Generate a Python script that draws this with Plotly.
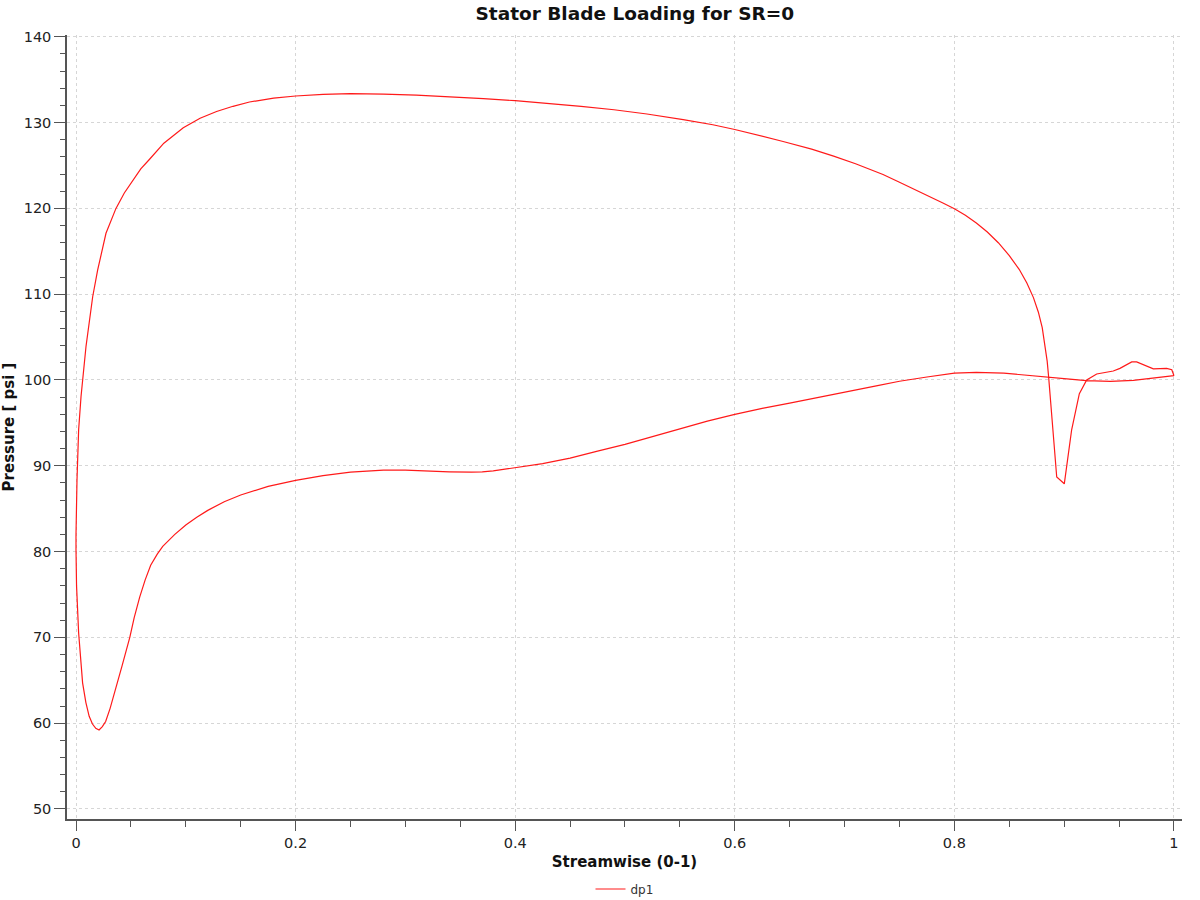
import plotly.graph_objects as go

# Suction side (lower branch), from trailing edge back to leading edge
x_lower = [1.0, 0.98, 0.963, 0.942, 0.92, 0.905, 0.886, 0.865, 0.845, 0.82, 0.80,
           0.775, 0.75, 0.73, 0.705, 0.675, 0.65, 0.625, 0.60, 0.575, 0.55, 0.525,
           0.50, 0.475, 0.45, 0.425, 0.40, 0.39, 0.38, 0.37, 0.36, 0.34, 0.32, 0.30, 0.28,
           0.25, 0.225, 0.20, 0.175, 0.15, 0.135, 0.12, 0.11, 0.10, 0.09, 0.079,
           0.074, 0.068, 0.063, 0.058, 0.053, 0.049, 0.042, 0.036, 0.031, 0.027,
           0.024, 0.021, 0.018, 0.015, 0.012, 0.009, 0.006, 0.0024, 0.0005, 0.0]
p_lower = [100.5, 100.2, 99.96, 99.84, 99.92, 100.1, 100.3, 100.6, 100.8, 100.88, 100.8,
           100.35, 99.85, 99.35, 98.7, 97.9, 97.3, 96.7, 96.0, 95.2, 94.3, 93.4,
           92.5, 91.7, 90.9, 90.25, 89.75, 89.55, 89.4, 89.3, 89.25, 89.3, 89.4, 89.5, 89.5,
           89.25, 88.85, 88.3, 87.6, 86.6, 85.8, 84.8, 84.0, 83.1, 82.0, 80.6,
           79.7, 78.4, 76.7, 74.7, 72.3, 70.0, 66.7, 63.9, 61.7, 60.2,
           59.6, 59.2, 59.4, 59.9, 60.8, 62.4, 64.7, 70.5, 76.0, 80.2]

# Pressure side (upper branch), from leading edge to trailing edge
x_upper = [0.0, 0.0009, 0.0024, 0.0046, 0.0091, 0.0152, 0.0197, 0.0273, 0.032,
           0.0364, 0.044, 0.0516, 0.059, 0.0668, 0.08, 0.0977, 0.113, 0.128,
           0.143, 0.158, 0.18, 0.20, 0.225, 0.25, 0.28, 0.31, 0.34, 0.371, 0.40,
           0.43, 0.46, 0.49, 0.52, 0.553, 0.58, 0.60, 0.62, 0.644, 0.67, 0.69,
           0.71, 0.735, 0.75, 0.766, 0.78, 0.79, 0.80, 0.81, 0.82, 0.83, 0.84,
           0.85, 0.859, 0.866, 0.872, 0.8765, 0.88, 0.8825, 0.8845, 0.8858, 0.8932,
           0.9001, 0.9068, 0.9138, 0.9205, 0.9296, 0.9447, 0.9508, 0.9615, 0.966,
           0.9812, 0.9933, 0.998, 1.0]
p_upper = [82.0, 88.3, 94.2, 98.1, 103.9, 109.7, 112.8, 117.1, 118.7,
           120.0, 121.8, 123.3, 124.6, 125.7, 127.6, 129.4, 130.5, 131.3,
           131.9, 132.4, 132.85, 133.1, 133.3, 133.37, 133.33, 133.2, 133.02, 132.8, 132.55,
           132.25, 131.9, 131.5, 131.0, 130.35, 129.75, 129.2, 128.6, 127.8, 126.9, 126.1,
           125.2, 123.95, 123.05, 122.1, 121.2, 120.6, 119.95, 119.2, 118.3, 117.25, 116.0,
           114.5, 112.9, 111.3, 109.6, 107.9, 106.1, 104.2, 102.2, 100.4, 88.7,
           87.9, 94.2, 98.4, 100.0, 100.7, 101.05, 101.35, 102.1, 102.1,
           101.3, 101.35, 101.2, 100.5]

x_vals = x_lower + x_upper
p_vals = p_lower + p_upper

x_ticks = [0, 0.2, 0.4, 0.6, 0.8, 1.0]
x_tick_labels = ["0", "0.2", "0.4", "0.6", "0.8", "1"]
y_ticks = [50, 60, 70, 80, 90, 100, 110, 120, 130, 140]

FONT = "DejaVu Sans"

fig = go.Figure()
fig.add_trace(go.Scatter(
    x=x_vals, y=p_vals, mode="lines", name="dp1",
    line=dict(color="#ff1a1a", width=1.2),
))

axis_common = dict(
    showline=True, linecolor="#555555", linewidth=1.5,
    ticks="outside", tickcolor="#555555", tickwidth=1.2,
    showgrid=True, gridcolor="#d6d6d6", gridwidth=1, griddash="dot",
    zeroline=False, mirror=False, automargin=False,
    tickfont=dict(family=FONT, size=14.5, color="#222222"),
)

fig.update_layout(
    width=1200, height=900,
    paper_bgcolor="white", plot_bgcolor="white",
    margin=dict(l=67, r=18, t=35, b=81),
    title=dict(text="<b>Stator Blade Loading for SR=0</b>",
               x=0.529, xanchor="center", y=1 - 14 / 900, yanchor="middle",
               yref="container", xref="container",
               font=dict(family=FONT, size=18.5, color="#111111")),
    showlegend=True,
    legend=dict(orientation="h", x=0.5, xanchor="center",
                yref="container", y=1 - 889 / 900, yanchor="middle",
                font=dict(family=FONT, size=12, color="#333333"),
                bgcolor="rgba(0,0,0,0)"),
    xaxis=dict(
        range=[-0.0082, 1.0073],
        tickvals=x_ticks, ticktext=x_tick_labels, ticklen=10,
        minor=dict(dtick=0.05, tick0=0, ticks="outside", ticklen=6,
                   tickcolor="#555555", showgrid=False),
        title=dict(text="<b>Streamwise (0-1)</b>", standoff=6,
                   font=dict(family=FONT, size=15, color="#111111")),
        **axis_common,
    ),
    yaxis=dict(
        range=[48.83, 140.21],
        tickvals=y_ticks, ticklen=11,
        minor=dict(dtick=2, tick0=50, ticks="outside", ticklen=5,
                   tickcolor="#555555", showgrid=False),
        title=dict(text="<b>Pressure [ psi ]</b>", standoff=8,
                   font=dict(family=FONT, size=15, color="#111111")),
        **axis_common,
    ),
)

fig.write_html("out.html",
               config={"displayModeBar": False},
               post_script="document.body.style.margin='0';document.body.style.padding='0';")
